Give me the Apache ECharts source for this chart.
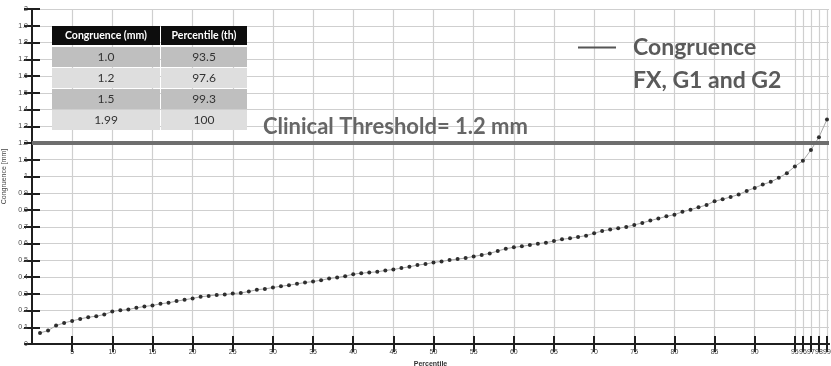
<!DOCTYPE html>
<html>
<head>
<meta charset="utf-8">
<script src="https://cdn.jsdelivr.net/npm/echarts@6/dist/echarts.min.js"></script>
<style>html,body{margin:0;padding:0;background:#fff}#c{width:831px;height:366px}</style>
</head>
<body>
<div id="c"></div>
<script>
const percentiles = [1,2,3,4,5,6,7,8,9,10,11,12,13,14,15,16,17,18,19,20,21,22,23,24,25,26,27,28,29,30,31,32,33,34,35,36,37,38,39,40,41,42,43,44,45,46,47,48,49,50,51,52,53,54,55,56,57,58,59,60,61,62,63,64,65,66,67,68,69,70,71,72,73,74,75,76,77,78,79,80,81,82,83,84,85,86,87,88,89,90,91,92,93,94,95,96,97,98,99];
const congruence = [0.066,0.080,0.110,0.126,0.138,0.150,0.160,0.166,0.176,0.194,
0.202,0.206,0.216,0.224,0.230,0.240,0.246,0.256,0.264,0.272,
0.282,0.287,0.293,0.295,0.301,0.305,0.313,0.324,0.329,0.337,
0.345,0.351,0.359,0.367,0.373,0.381,0.391,0.397,0.405,0.417,
0.423,0.427,0.431,0.439,0.445,0.453,0.461,0.471,0.477,0.487,
0.493,0.501,0.507,0.513,0.523,0.531,0.541,0.555,0.569,0.577,
0.583,0.591,0.599,0.605,0.615,0.625,0.631,0.639,0.647,0.661,
0.675,0.683,0.691,0.699,0.711,0.723,0.737,0.749,0.762,0.772,
0.789,0.802,0.816,0.830,0.852,0.864,0.878,0.892,0.914,0.932,
0.952,0.968,0.992,1.020,1.060,1.094,1.158,1.235,1.341];
const xTicks = [5,10,15,20,25,30,35,40,45,50,55,60,65,70,75,80,85,90,95,96,97,98,99];
const threshold = 1.2;
const thresholdLabel = 'Clinical Threshold= 1.2 mm';
const seriesName = 'Congruence';
const seriesName2 = 'FX, G1 and G2';
const tableHeader = ['Congruence (mm)', 'Percentile (th)'];
const tableCongruence = ['1.0', '1.2', '1.5', '1.99'];
const tablePercentile = ['93.5', '97.6', '99.3', '100'];

const chart = echarts.init(document.getElementById('c'));
const axisDark = '#1f1f1f';
const gridGrey = '#cfcfcf';
const tickFont = {fontSize: 7, color: '#444', fontFamily: 'Liberation Sans'};

// table graphics
const tbl = [];
const colX = [52, 161], colW = [108, 86];
const headY = 26, headH = 19, rowY = [47, 68, 89, 110], rowH = 20;
for (let c = 0; c < 2; c++) {
  tbl.push({type: 'rect', z: 100, shape: {x: colX[c], y: headY, width: colW[c], height: headH}, style: {fill: '#0d0d0d'}});
  tbl.push({type: 'text', z: 101, x: colX[c] + colW[c] / 2, y: headY + headH / 2, style: {text: tableHeader[c], fill: '#fff', font: 'bold 10.5px Lato', align: 'center', verticalAlign: 'middle'}});
}
for (let r = 0; r < tableCongruence.length; r++) {
  const fill = r % 2 === 0 ? '#bfbfbf' : '#dedede';
  const vals = [tableCongruence[r], tablePercentile[r]];
  for (let c = 0; c < 2; c++) {
    tbl.push({type: 'rect', z: 100, shape: {x: colX[c], y: rowY[r], width: colW[c], height: rowH}, style: {fill: fill}});
    tbl.push({type: 'text', z: 101, x: colX[c] + colW[c] / 2, y: rowY[r] + rowH / 2, style: {text: vals[c], fill: '#333', font: '12px Lato', align: 'center', verticalAlign: 'middle'}});
  }
}
tbl.push({type: 'text', z: 101, left: 633, top: 69, style: {text: seriesName2, fill: '#5a5a5a', font: 'bold 23px Lato'}});

chart.setOption({
  animation: false,
  backgroundColor: '#fff',
  grid: {left: 32, right: 2, top: 9, bottom: 22, outerBoundsMode: 'none', containLabel: false},
  legend: {
    data: [{name: seriesName, itemStyle: {color: '#555'}}],
    left: 578, top: 36, padding: 0, icon: 'rect', itemWidth: 38, itemHeight: 2,
    textStyle: {fontFamily: 'Lato', fontWeight: 'bold', fontSize: 23, color: '#5a5a5a', padding: [0, 0, 0, 12]}
  },
  xAxis: [{
    type: 'value', min: 0, max: 99.25, position: 'bottom',
    name: 'Percentile', nameLocation: 'middle', nameGap: 15,
    nameTextStyle: {fontSize: 7, fontWeight: 'bold', color: '#333', fontFamily: 'Liberation Sans'},
    axisLine: {lineStyle: {color: axisDark, width: 2}},
    axisTick: {inside: true, length: 8, lineStyle: {color: axisDark, width: 2}, customValues: xTicks},
    axisLabel: Object.assign({customValues: xTicks, margin: 5, hideOverlap: false}, tickFont),
    splitLine: {show: true, lineStyle: {color: gridGrey, width: 1.2}}
  }, {
    type: 'value', min: 0, max: 99.25, position: 'top',
    axisLine: {show: true, lineStyle: {color: axisDark, width: 2}},
    axisTick: {show: true, inside: true, length: 8, lineStyle: {color: axisDark, width: 2}, customValues: xTicks},
    axisLabel: {show: false},
    splitLine: {show: false}
  }],
  yAxis: [{
    type: 'value', min: 0, max: 2, interval: 0.1, position: 'left',
    name: 'Congruence [mm]', nameLocation: 'middle', nameGap: 17, nameRotate: 90,
    nameTextStyle: {fontSize: 7, color: '#444', fontFamily: 'Liberation Sans'},
    axisLine: {show: true, lineStyle: {color: axisDark, width: 2}},
    axisTick: {show: true, inside: true, length: 8, lineStyle: {color: axisDark, width: 2}},
    axisLabel: Object.assign({margin: 4}, tickFont),
    splitLine: {show: true, lineStyle: {color: gridGrey, width: 1.2}}
  }, {
    type: 'value', min: 0, max: 2, interval: 0.1, position: 'right',
    axisLine: {show: true, lineStyle: {color: axisDark, width: 2}},
    axisTick: {show: true, inside: true, length: 8, lineStyle: {color: axisDark, width: 2}},
    axisLabel: {show: false},
    splitLine: {show: false}
  }],
  series: [{
    name: seriesName, type: 'line',
    data: percentiles.map((p, i) => [p, congruence[i]]),
    symbol: 'circle', symbolSize: 4,
    itemStyle: {color: '#2e2e2e'},
    lineStyle: {color: '#a8a8a8', width: 1},
    markLine: {
      silent: true, symbol: 'none',
      lineStyle: {color: '#6e6e6e', width: 4, type: 'solid'},
      label: {show: true, formatter: thresholdLabel, position: 'insideStartTop', distance: 5,
        padding: [0, 0, 0, 226], fontFamily: 'Lato', fontWeight: 'bold', fontSize: 22, color: '#666'},
      data: [{yAxis: threshold}]
    }
  }],
  graphic: tbl
});
</script>
</body>
</html>
